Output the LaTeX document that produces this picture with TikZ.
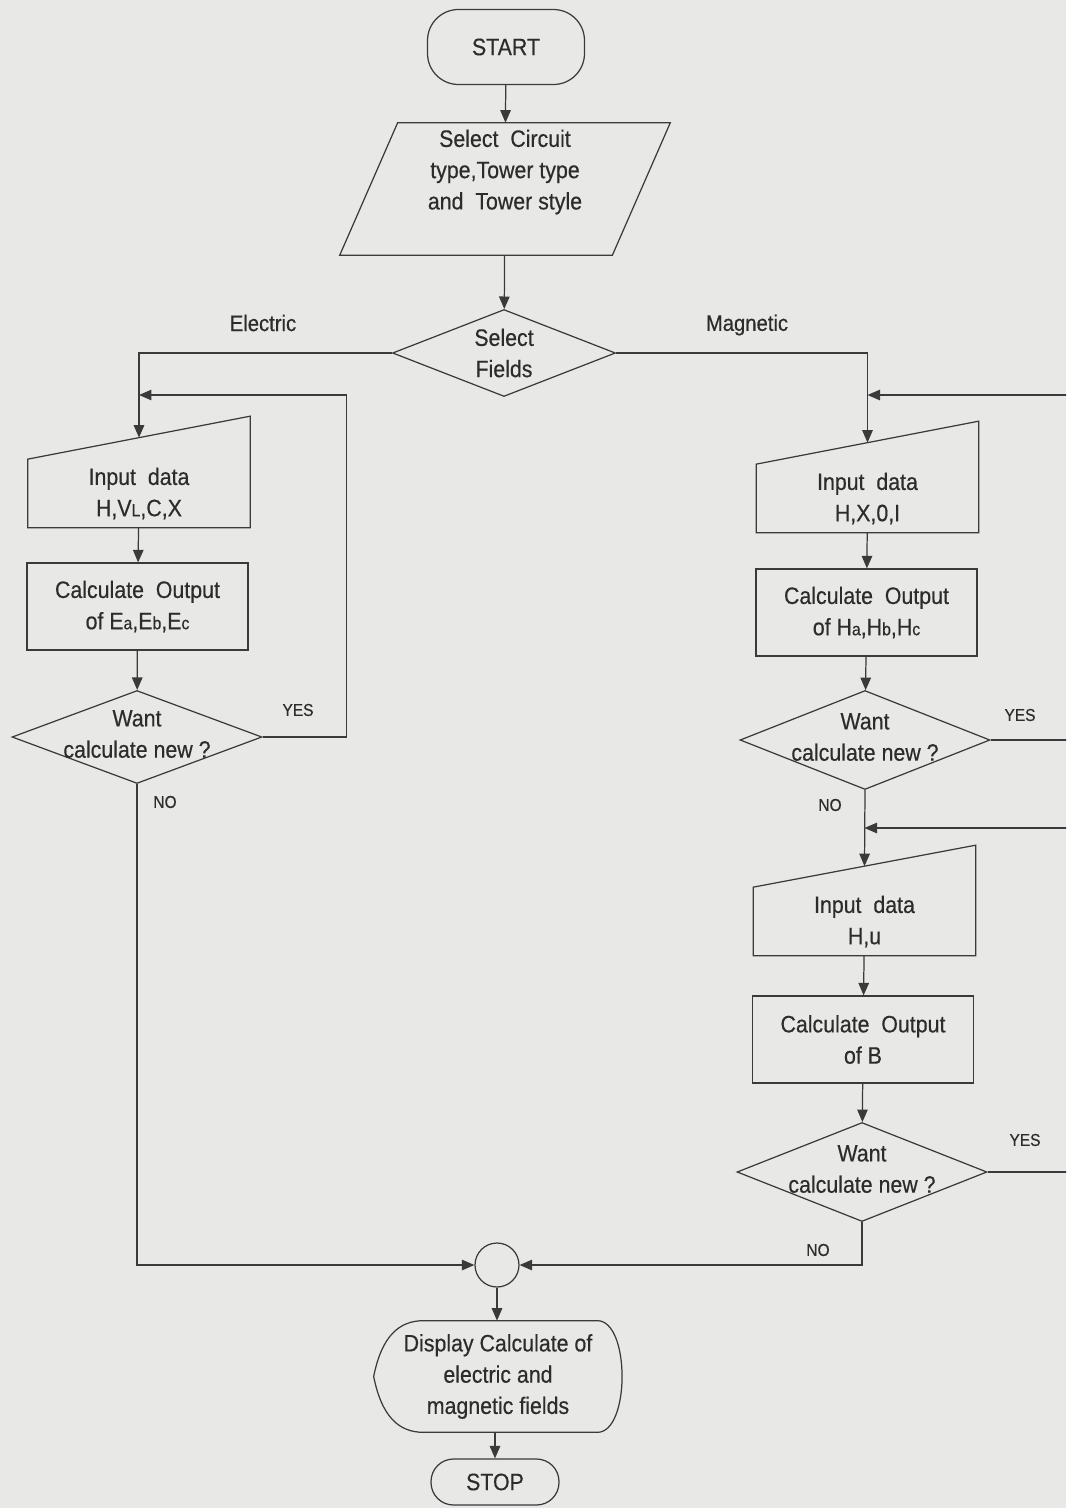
\documentclass[tikz,border=0pt]{standalone}
\usepackage{fontspec}
\setmainfont{Liberation Sans}[FakeStretch=0.9, FakeBold=0.4]
\usepackage{xcolor}
\usepackage{tikz}
\usetikzlibrary{shapes.geometric, arrows.meta, positioning, calc}
\definecolor{paper}{RGB}{232,232,230}
\definecolor{ink}{RGB}{58,58,58}
\newcommand{\smallidx}[1]{{\fontsize{10}{10}\selectfont #1}}

\begin{document}
\begin{tikzpicture}[
        x=0.02cm, y=-0.02cm,
        font=\fontsize{13.5}{17.8}\selectfont,
        every node/.append style={text=ink!75!black},
        inkline/.style={draw=ink, line width=0.7pt},
        termnode/.style={inkline, rectangle, rounded corners=0.62cm, minimum width=3.14cm, minimum height=1.5cm, inner sep=0pt},
        stopnode/.style={inkline, rectangle, rounded corners=0.45cm, minimum width=2.56cm, minimum height=0.92cm, inner sep=0pt},
        datanode/.style={rectangle, minimum width=5.44cm, minimum height=2.64cm, inner sep=0pt},
        decision/.style={inkline, diamond, minimum width=5cm, minimum height=1.9cm, inner sep=0pt},
        inputnode/.style={rectangle, minimum width=4.44cm, minimum height=1.36cm, inner sep=0pt, align=center},
        procnode/.style={inkline, rectangle, minimum width=4.42cm, minimum height=1.74cm, inner sep=0pt, align=center},
        joinnode/.style={inkline, circle, minimum size=0.88cm, inner sep=0pt},
        dispnode/.style={rectangle, minimum width=4.96cm, minimum height=2.22cm, inner sep=0pt, align=center},
        branchtext/.style={font=\fontsize{12.8}{15}\selectfont},
        answertext/.style={font=\fontsize{9.8}{12}\selectfont},
        flow/.style={inkline, -{Triangle[length=0.25cm, width=0.21cm]}}
    ]
        % Page
        \useasboundingbox (0,0) rectangle (1066,1508);
        \fill[paper] (0,0) rectangle (1066,1508);
        \clip (0,0) rectangle (1066,1508);

        % Main column
        \node[termnode] (start) at (506,47) {START};
        \node[datanode] (sel) at (505,189) {};
        \node[align=center] (seltxt) at ($(sel)+(0,-17)$) {Select~ Circuit\\type,Tower type\\and~ Tower style};
        \node[decision, minimum width=4.46cm, minimum height=1.74cm] (fields) at (504,353) {};
        \node[align=center] (fieldstxt) at (fields) {Select\\Fields};
        \node[branchtext] (elec) at (263,323) {Electric};
        \node[branchtext] (magn) at (747,325) {Magnetic};

        % Electric branch
        \node[inputnode] (inE) at (139,493.5) {Input~ data\\H,V\smallidx{L},C,X};
        \node[procnode] (calcE) at (137.5,606.5) {Calculate~ Output\\of E\smallidx{a},E\smallidx{b},E\smallidx{c}};
        \node[decision, minimum height=1.86cm] (wantE) at (137,737) {};
        \node[align=center] (wantEtxt) at ($(wantE)+(0,-3)$) {Want\\calculate new ?};
        \node[answertext] (yesE) at (298,710) {YES};
        \node[answertext] (noE) at (165,802) {NO};

        % Magnetic branch
        \node[inputnode] (inH) at (867.5,498.5) {Input~ data\\H,X,0,I};
        \node[procnode] (calcH) at (866.5,612.5) {Calculate~ Output\\of H\smallidx{a},H\smallidx{b},H\smallidx{c}};
        \node[decision, minimum height=1.98cm] (wantH) at (865,740) {};
        \node[align=center] (wantHtxt) at ($(wantH)+(0,-3)$) {Want\\calculate new ?};
        \node[answertext] (yesH) at (1020,715) {YES};
        \node[answertext] (noH) at (830,805) {NO};

        \node[inputnode] (inB) at (864.5,921.5) {Input~ data\\H,u};
        \node[procnode] (calcB) at (863,1039.5) {Calculate~ Output\\of B};
        \node[decision, minimum height=1.98cm] (wantB) at (862,1172) {};
        \node[align=center] (wantBtxt) at ($(wantB)+(0,-3)$) {Want\\calculate new ?};
        \node[answertext] (yesB) at (1025,1140) {YES};
        \node[answertext] (noB) at (818,1250) {NO};

        % Output
        \node[joinnode] (join) at (497,1265) {};
        \node[dispnode] (disp) at (498,1376.5) {Display Calculate of\\electric and\\magnetic fields};
        \node[stopnode] (stop) at (495,1482) {STOP};

        % Parallelogram outline
        \draw[inkline] ($(sel.south west)+(-29,0)$) -- ($(sel.north west)+(29,0)$) -- ($(sel.north east)+(29,0)$) -- ($(sel.south east)+(-29,0)$) -- cycle;

        % Manual input outlines
        \draw[inkline] (inE.south west) -- (inE.north west) -- ($(inE.north east)+(0,-43)$) -- (inE.south east) -- cycle;
        \draw[inkline] (inH.south west) -- (inH.north west) -- ($(inH.north east)+(0,-43)$) -- (inH.south east) -- cycle;
        \draw[inkline] (inB.south west) -- (inB.north west) -- ($(inB.north east)+(0,-42)$) -- (inB.south east) -- cycle;
        \coordinate (inEtop) at ($(inE.north)+(0,-21.5)$);
        \coordinate (inHtop) at ($(inH.north)+(0,-21.5)$);
        \coordinate (inBtop) at ($(inB.north)+(0,-21)$);

        % Display outline
        \draw[inkline] (disp.west) .. controls ($(disp.west)+(8,-40)$) and ($(disp.north west)+(25,0)$) .. ($(disp.north west)+(50,0)$)
            -- ($(disp.north east)+(-25,0)$) .. controls ($(disp.north east)+(8,0)$) and ($(disp.south east)+(8,0)$) .. ($(disp.south east)+(-25,0)$)
            -- ($(disp.south west)+(50,0)$) .. controls ($(disp.south west)+(25,0)$) and ($(disp.west)+(8,40)$) .. (disp.west) -- cycle;

        % Loop targets
        \coordinate (loopE) at (139,395);
        \coordinate (loopH) at (867.5,395);
        \coordinate (loopB) at (864.5,828);

        % Connections
        \draw[flow] (start) -- (sel);
        \draw[flow] (sel) -- (fields);
        \draw[flow] (fields.west) -| (inEtop);
        \draw[flow] (fields.east) -| (inHtop);

        \draw[flow] (inE) -- (calcE);
        \draw[flow] (calcE) -- (wantE);
        \draw[flow] (wantE.east) -- ++(84,0) |- (loopE);
        \draw[flow] (wantE.south) |- (join.west);

        \draw[flow] (inH) -- (calcH);
        \draw[flow] (calcH) -- (wantH);
        \draw[flow] (wantH.east) -- ++(90,0) |- (loopH);
        \draw[flow] (wantH.south) -- (inBtop);
        \draw[flow] (inB) -- (calcB);
        \draw[flow] (calcB) -- (wantB);
        \draw[flow] (wantB.east) -- ++(90,0) |- (loopB);
        \draw[flow] (wantB.south) |- (join.east);

        \draw[flow] (join.south) -- (join.south |- disp.north);
        \draw[flow] (stop.north |- disp.south) -- (stop.north);
    \end{tikzpicture}
\end{document}
